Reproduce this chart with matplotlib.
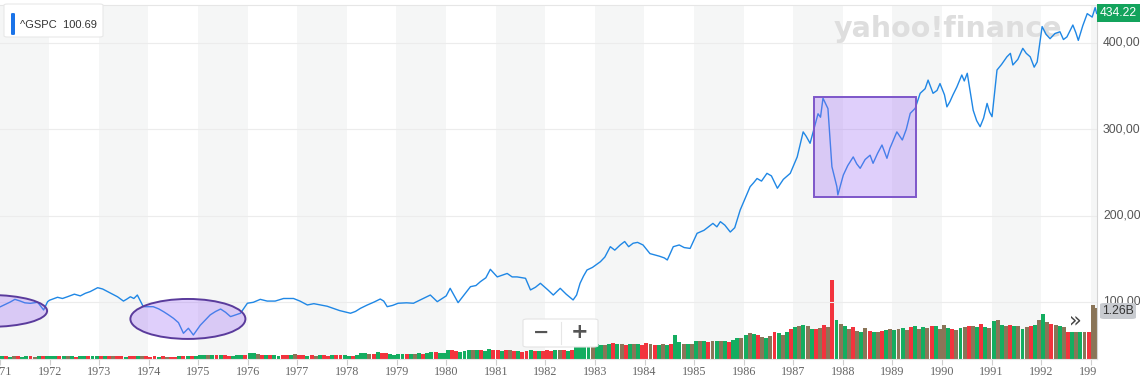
import matplotlib
matplotlib.use("Agg")
import matplotlib.pyplot as plt
from matplotlib.patches import Ellipse, Rectangle, FancyBboxPatch
from matplotlib.transforms import Bbox, blended_transform_factory

W, H = 1140, 385

# ^GSPC close (decimal year, index level)
years = [1971.01, 1971.21, 1971.41, 1971.61, 1971.76, 1971.88, 1971.96, 1972.16, 1972.36,
         1972.62, 1972.82, 1972.97, 1973.17, 1973.37, 1973.49, 1973.63, 1973.77, 1973.89,
         1974.09, 1974.30, 1974.50, 1974.70, 1974.80, 1974.90, 1975.04, 1975.24, 1975.45,
         1975.65, 1975.85, 1975.99, 1976.11, 1976.39, 1976.72, 1976.92, 1977.20, 1977.46,
         1977.72, 1978.07, 1978.27, 1978.41, 1978.67, 1978.81, 1979.03, 1979.34, 1979.68,
         1979.82, 1980.08, 1980.24, 1980.49, 1980.69, 1980.89, 1981.03, 1981.23, 1981.43,
         1981.60, 1981.70, 1981.90, 1982.16, 1982.30, 1982.56, 1982.70, 1982.84, 1983.11,
         1983.31, 1983.51, 1983.77, 1983.97, 1984.11, 1984.46, 1984.58, 1984.92, 1985.06,
         1985.38, 1985.53, 1985.73, 1985.93, 1986.13, 1986.27, 1986.47, 1986.68, 1986.94,
         1987.08, 1987.20, 1987.34, 1987.44, 1987.60, 1987.70, 1987.78, 1987.88, 1987.90,
         1988.01, 1988.21, 1988.35, 1988.55, 1988.61, 1988.79, 1988.89, 1989.09, 1989.20,
         1989.36, 1989.46, 1989.56, 1989.72, 1989.82, 1989.96, 1990.10, 1990.22, 1990.30,
         1990.40, 1990.51, 1990.63, 1990.77, 1990.91, 1991.01, 1991.11, 1991.31, 1991.43,
         1991.63, 1991.78, 1991.92, 1992.02, 1992.18, 1992.38, 1992.52, 1992.64, 1992.75,
         1992.93, 1993.03, 1993.09, 1993.12]
price = [94.5, 100, 101, 98.4, 99.6, 90.7, 100.3, 105.4, 106,
         107, 112, 116.5, 112, 106, 101, 106, 108, 94.5,
         94.5, 88.7, 81, 63.7, 69.5, 61.7, 73, 85, 91.8,
         83, 86.9, 98.5, 99.6, 101, 104, 104, 96.5, 96.5,
         92.6, 86.9, 92.6, 96.5, 103.4, 94.5, 98.5, 98.5, 108,
         100.3, 115.8, 99.2, 117.7, 123.5, 137.8, 129, 133, 129,
         127.4, 113.9, 121.6, 108, 115.8, 102.3, 121.6, 137, 146.6,
         164, 166, 168, 166, 156, 148.6, 164, 162, 179.5,
         191, 193, 181, 206.5, 233.5, 243, 249, 231.7, 249,
         268, 297, 283.8, 305, 336, 324, 256.7, 233.5, 224,
         247, 268, 254.8, 270, 260.6, 281.8, 266.4, 297, 287.6,
         318.5, 324.3, 341.7, 357, 341.7, 353, 326, 339.7, 349,
         362.9, 364.9, 322, 303, 330, 314.6, 368.7, 384, 374.5,
         393.8, 384, 378, 419, 405, 413, 407, 420.8, 403,
         434, 430, 441, 434.22]

# extra in-between readings (the small wiggles of the line)
years_fine = [1971.10, 1971.30, 1971.50, 1972.00, 1972.26, 1972.50, 1972.72, 1973.07,
              1973.27, 1973.55, 1973.70, 1974.20, 1974.40, 1974.60, 1975.14, 1975.35,
              1975.55, 1975.75, 1976.25, 1976.55, 1977.05, 1977.33, 1977.60, 1977.85,
              1978.17, 1978.55, 1978.74, 1978.92, 1979.20, 1979.50, 1980.00, 1980.36,
              1980.60, 1980.80, 1981.13, 1981.33, 1981.80, 1982.05, 1982.42, 1982.63,
              1982.77, 1982.95, 1983.20, 1983.40, 1983.60, 1983.68, 1983.86, 1984.30,
              1984.40, 1984.70, 1984.80, 1985.20, 1985.46, 1985.62, 1985.82, 1986.20,
              1986.36, 1986.56, 1986.80, 1987.26, 1987.50, 1987.55, 1988.10, 1988.28,
              1988.45, 1988.70, 1988.95, 1989.28, 1989.66, 1989.90, 1990.05, 1990.16,
              1990.45, 1990.70, 1990.84, 1990.96, 1991.20, 1991.38, 1991.53, 1991.70,
              1991.86, 1992.10, 1992.28, 1992.45, 1992.58, 1992.70, 1992.84]
price_fine = [97, 103, 99, 102, 104, 109, 110, 115,
              109, 103, 104, 92, 85, 76, 79, 89,
              88, 85, 103, 101, 101, 98, 95, 90,
              89, 100, 101, 96, 99, 103, 107, 108,
              119, 128, 131, 129, 117, 114, 109, 108,
              130, 140, 152, 160, 170, 164, 169, 153,
              151, 166, 163, 183, 187, 189, 186, 238,
              240, 246, 242, 292, 318, 314, 258, 260,
              265, 272, 278, 300, 347, 345, 340, 332,
              356, 310, 313, 320, 375, 388, 381, 388,
              372, 410, 411, 404, 414, 412, 420]

# monthly volume (millions) and bar colour (g up, r down, b mixed)
vol = {
    1971: [60, 65, 55, 70, 60, 55, 65, 60, 55, 60, 65, 70],
    1972: [70, 65, 70, 60, 65, 60, 55, 60, 65, 70, 65, 70],
    1973: [70, 65, 60, 70, 60, 65, 55, 60, 70, 75, 70, 65],
    1974: [55, 60, 55, 60, 55, 50, 55, 60, 70, 75, 65, 60],
    1975: [85, 95, 90, 95, 100, 105, 85, 80, 75, 85, 90, 85],
    1976: [140, 130, 120, 100, 90, 95, 85, 80, 90, 85, 95, 110],
    1977: [90, 85, 80, 85, 80, 90, 85, 80, 85, 90, 95, 100],
    1978: [80, 75, 90, 130, 150, 120, 125, 160, 150, 140, 110, 100],
    1979: [120, 110, 115, 120, 125, 130, 125, 145, 155, 165, 140, 150],
    1980: [200, 210, 195, 175, 180, 200, 220, 210, 205, 195, 230, 220],
    1981: [200, 190, 210, 220, 190, 180, 175, 185, 200, 195, 190, 185],
    1982: [200, 195, 220, 210, 205, 195, 210, 300, 320, 330, 300, 290],
    1983: [340, 330, 335, 360, 380, 350, 340, 330, 345, 350, 340, 330],
    1984: [370, 340, 330, 320, 340, 330, 350, 550, 400, 360, 350, 340],
    1985: [420, 430, 410, 400, 420, 410, 430, 420, 400, 440, 480, 500],
    1986: [550, 600, 580, 560, 520, 500, 540, 620, 600, 560, 620, 700],
    1987: [750, 780, 800, 760, 700, 690, 720, 800, 750, 1850, 900, 820],
    1988: [780, 700, 740, 660, 640, 720, 650, 620, 640, 660, 680, 700],
    1989: [680, 700, 720, 680, 740, 760, 700, 740, 720, 780, 760, 700],
    1990: [800, 720, 700, 680, 720, 740, 780, 760, 740, 820, 740, 720],
    1991: [880, 920, 800, 780, 800, 760, 760, 700, 740, 780, 800, 900],
    1992: [1050, 860, 820, 800, 760, 740, 640, 640, 640, 640, 640, 640],
    1993: [1260, 1200],
}
vol_col = {
    1971: "grgbrggrbgrg", 1972: "ggrgbgrggrgg", 1973: "rgrbrrgrrgbr",
    1974: "rrgrbrrgrgrg", 1975: "ggbgrgrrgggr", 1976: "ggbrgrggrrgb",
    1977: "rrgrbgrrgrrg", 1978: "grgggbrgrrgg", 1979: "ggrgbgrggrgg",
    1980: "grrgggbgrggr", 1981: "rgrbrgrrgrgr", 1982: "rrgbrgrggggb",
    1983: "ggbgrgbrgbgr", 1984: "rbrgbgrggbgb", 1985: "gbgrbgbgrggb",
    1986: "gbgrbgbrgbgr", 1987: "gbgbgrbrbrgb", 1988: "gbrbgbrgbrgb",
    1989: "gbgbrgbgbrgb", 1990: "bgrbgbrbgrgb", 1991: "gbgbrgbgbrgb",
    1992: "gbrbgbrgbgbr", 1993: "bb",
}
tick_years = list(range(1971, 1994))
grid_vals = [100, 200, 300, 400]
grid_labels = ["100,000", "200,000", "300,000", "400,000"]

colmap = {"g": "#14ad60", "r": "#f2333d", "b": "#8a7558"}

fig = plt.figure(figsize=(W / 100, H / 100), dpi=100, facecolor="white")


def fx(px):
    return px / W


def fy(py):
    return 1 - py / H


L, T, R, B = 0, 5, 1097, 359
rect = [fx(L), fy(B), fx(R) - fx(L), fy(T) - fy(B)]
vax = fig.add_axes(rect, zorder=0)
ax = fig.add_axes(rect, zorder=1)
ax.patch.set_alpha(0)

x0, x1 = 1971.01, 1993.127
for a in (vax, ax):
    a.set_xlim(x0, x1)
vax.set_ylim(0, 8260)
ax.set_ylim(33.9, 444.0)

# alternating year bands
for y in range(1971, 1994, 2):
    vax.axvspan(y, y + 1, color="#f5f6f6", lw=0, zorder=0)
vax.axis("off")

# watermark
vax.text(fx(834), fy(29), "yahoo!finance", transform=fig.transFigure, fontsize=20.5,
         fontweight="bold", color="#dedede", family="DejaVu Sans", va="center",
         ha="left", clip_on=False, zorder=1)

# volume bars
vx, vh, vc = [], [], []
for yr, vals in vol.items():
    for m, v in enumerate(vals):
        vx.append(yr + (m + 0.5) / 12)
        vh.append(v)
        vc.append(colmap[vol_col[yr][m]])
vax.bar(vx, vh, width=0.95 / 12, color=vc, lw=0, zorder=2)

# grid
for v in grid_vals:
    ax.axhline(v, color="#ececec", lw=0.8, zorder=1)

pts = sorted(zip(years + years_fine, price + price_fine))
ax.plot([p[0] for p in pts], [p[1] for p in pts], color="#1f87e5", lw=1.0, zorder=3)

# annotations
shape_face = (0.62, 0.42, 0.96, 0.32)
ax.add_patch(Ellipse((1970.79, 89.6), 2.32, 37, facecolor=shape_face,
                     edgecolor="#5a3b9c", lw=1.4, zorder=4))
ax.add_patch(Ellipse((1974.79, 80.3), 2.32, 46.3, facecolor=shape_face,
                     edgecolor="#5a3b9c", lw=1.4, zorder=4))
ax.add_patch(Rectangle((1987.42, 221.6), 2.06, 115.8, facecolor=shape_face,
                       edgecolor="#7d56c9", lw=1.4, zorder=4))

# axes frame
ax.spines["left"].set_visible(False)
ax.spines["top"].set_color("#e6e6e6")
ax.spines["right"].set_color("#d4d4d4")
ax.spines["bottom"].set_color("#e4e4e4")
ax.set_yticks([])
ax.set_xticks(tick_years)
ax.tick_params(axis="x", length=4, color="#cfcfcf", labelbottom=False)

clip = Bbox.from_extents(0, 0, R, H)
xtrans = blended_transform_factory(ax.transData, ax.transAxes)
for yr in tick_years:
    t = ax.text(yr, -13 / (B - T), str(yr), transform=xtrans, ha="center", va="center",
                fontsize=8.7, color="#666666", family="Liberation Serif")
    t.set_clip_on(True)
    t.set_clip_box(clip)

ytrans = blended_transform_factory(ax.transAxes, ax.transData)
for v, lab in zip(grid_vals, grid_labels):
    ax.text(1103 / R, v, lab, transform=ytrans, ha="left", va="center", fontsize=8.7,
            color="#555555", family="Liberation Sans", clip_on=False)

# last price tag
fig.patches.append(Rectangle((fx(1097), fy(22)), fx(43), 18 / H, transform=fig.transFigure,
                             facecolor="#13a35c", lw=0, zorder=5))
fig.text(fx(1118.5), fy(13.5), "434.22", ha="center", va="center", fontsize=8.7,
         color="white", family="Liberation Sans", zorder=6)

# last volume tag
fig.patches.append(FancyBboxPatch((fx(1100), fy(319)), fx(36), 16 / H,
                                  boxstyle="round,pad=0,rounding_size=0.004",
                                  transform=fig.transFigure, facecolor="#c8cbd0",
                                  lw=0, zorder=5))
fig.text(fx(1118), fy(311), "1.26B", ha="center", va="center", fontsize=8.7,
         color="#333333", family="Liberation Sans", zorder=6)

# legend chip
fig.patches.append(FancyBboxPatch((fx(4), fy(37)), fx(99), 33 / H,
                                  boxstyle="round,pad=0,rounding_size=0.003",
                                  transform=fig.transFigure, facecolor="white",
                                  edgecolor="#e8e8e8", lw=0.8, zorder=5))
fig.patches.append(FancyBboxPatch((fx(11), fy(35)), fx(4), 22 / H,
                                  boxstyle="round,pad=0,rounding_size=0.002",
                                  transform=fig.transFigure, facecolor="#1a73e8",
                                  lw=0, zorder=6))
fig.text(fx(20), fy(25), "^GSPC  100.69", ha="left", va="center", fontsize=8,
         color="#333333", family="Liberation Sans", zorder=6)

# zoom buttons
fig.patches.append(FancyBboxPatch((fx(523), fy(347)), fx(75), 28 / H,
                                  boxstyle="round,pad=0,rounding_size=0.004",
                                  transform=fig.transFigure, facecolor="white",
                                  edgecolor="#e4e4e4", lw=0.8, zorder=5))
fig.lines.append(plt.Line2D([fx(561), fx(561)], [fy(344), fy(322)], transform=fig.transFigure,
                            color="#e6e6e6", lw=0.8, zorder=6))
fig.text(fx(541), fy(332), "\u2212", ha="center", va="center", fontsize=14,
         fontweight="bold", color="#555555", zorder=6)
fig.text(fx(580), fy(332), "+", ha="center", va="center", fontsize=15,
         fontweight="bold", color="#555555", zorder=6)
fig.text(fx(1075), fy(320), "\u00bb", ha="center", va="center", fontsize=15,
         color="#444444", zorder=6)

fig.savefig("out.png", dpi=100, facecolor="white")
